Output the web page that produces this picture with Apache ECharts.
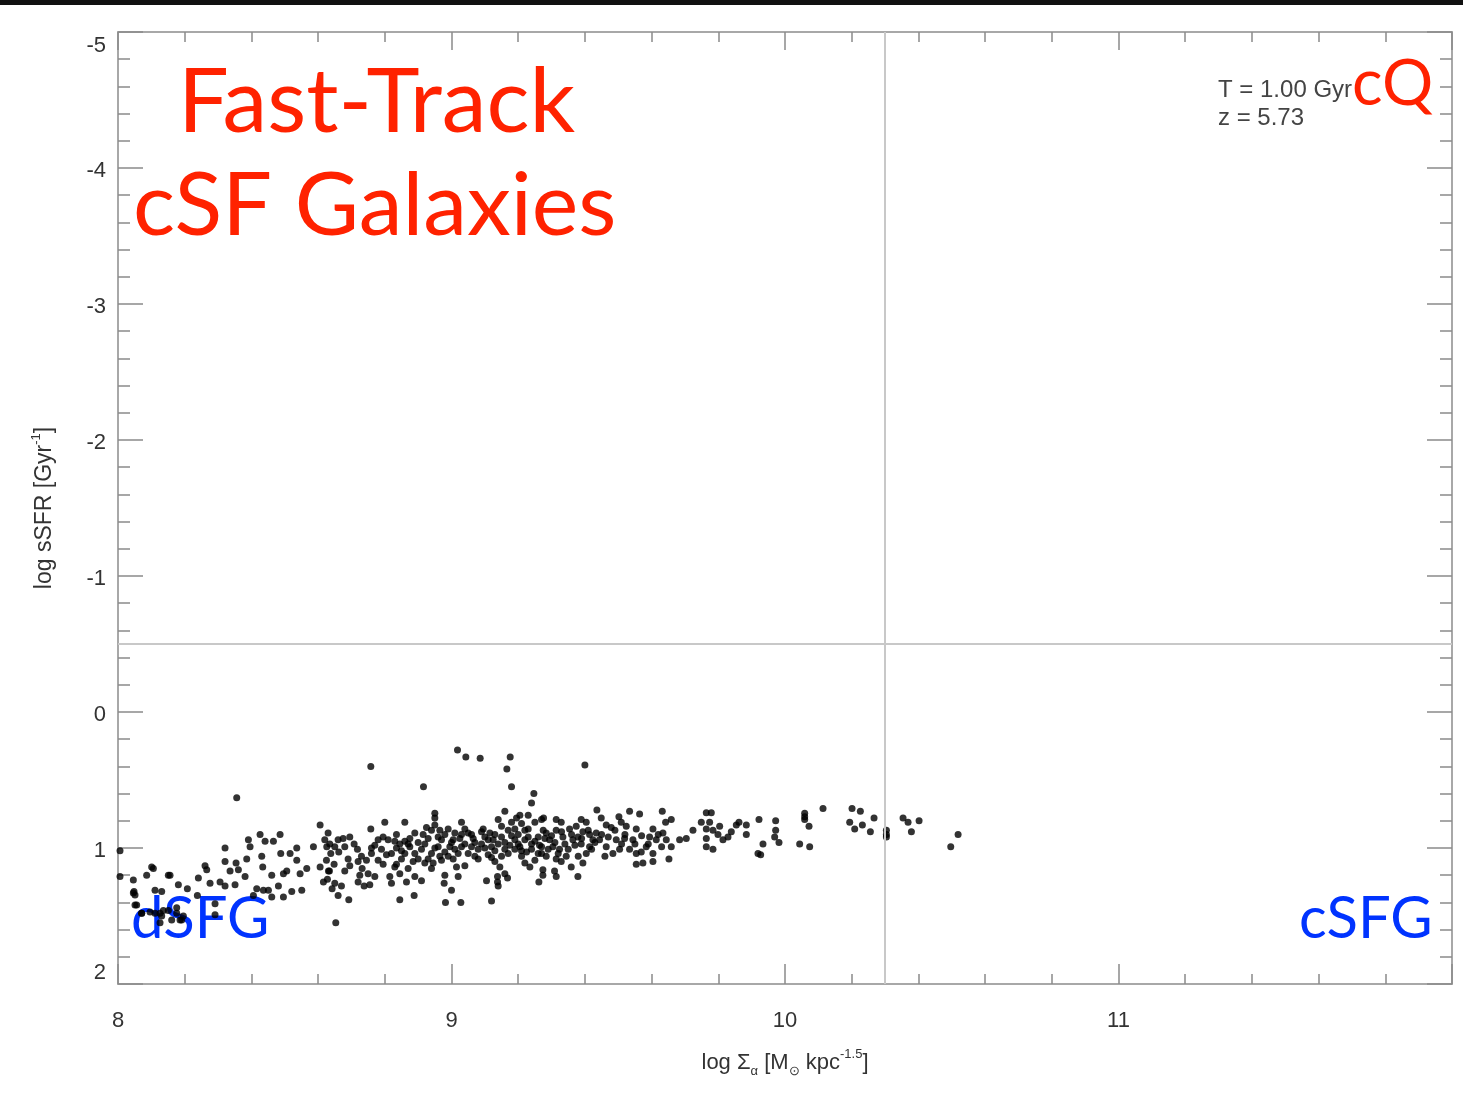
<!DOCTYPE html>
<html>
<head>
<meta charset="utf-8">
<script src="https://cdn.jsdelivr.net/npm/echarts@6/dist/echarts.min.js"></script>
<style>
html,body{margin:0;padding:0;background:#fff;}
#chart{width:1463px;height:1100px;}
</style>
</head>
<body>
<div id="chart"></div>
<script>
// ---- axis settings ----
const xRange = [8, 12];
const yRange = [-5, 2];
const xTickLabels = ['8', '9', '10', '11'];
const yTickLabels = ['-5', '-4', '-3', '-2', '-1', '0', '1', '2'];
const ssfrThreshold = -0.5;
const sigmaThreshold = 10.3;

// ---- galaxies: [log Sigma_alpha, log sSFR] ----
const outliers = [
  [8.356,0.63],[8.758,0.40],[9.018,0.28],[9.043,0.33],[9.086,0.34],[9.176,0.33],[9.166,0.42],
  [9.18,0.55],[8.916,0.55],[9.247,0.60],[9.24,0.67],[8.653,1.55],[8.692,1.38],[8.845,1.38],
  [8.888,1.35],[8.982,1.40],[9.028,1.40],[9.12,1.39],[9.40,0.39],[8.006,1.02],[8.006,1.21]
];
const lowMassGalaxies = [
  [8.046,1.235],[8.048,1.32],[8.051,1.345],[8.056,1.42],[8.071,1.48],[8.086,1.20],[8.106,1.15],
  [8.111,1.31],[8.131,1.32],[8.136,1.46],[8.126,1.48],[8.156,1.20],[8.181,1.27],[8.208,1.30],
  [8.176,1.48],[8.191,1.53],[8.241,1.22],[8.238,1.35],[8.261,1.13],[8.266,1.16],[8.276,1.26],
  [8.291,1.41],[8.291,1.49],[8.306,1.25],[8.321,1.00],[8.321,1.10],[8.321,1.28],[8.336,1.17],
  [8.354,1.11],[8.361,1.16],[8.351,1.27],[8.381,1.21],[8.391,0.94],[8.386,1.08],[8.396,0.99],
  [8.406,1.35],[8.416,1.30],[8.426,0.90],[8.431,1.06],[8.434,1.14],[8.441,0.95],[8.436,1.31],
  [8.451,1.31],[8.461,1.36],[8.466,0.95],[8.461,1.20],[8.481,1.28],[8.486,0.90],[8.488,1.04],
  [8.496,1.19],[8.496,1.36],[8.506,1.17],[8.516,1.04],[8.521,1.32],[8.536,1.00],[8.536,1.09],
  [8.546,1.19],[8.551,1.31],[8.566,1.15],[8.586,0.99],[8.606,0.83],[8.606,1.14],[8.616,1.25],
  [8.626,0.99],[8.631,1.17],
  [8.046,1.33],[8.051,1.42],[8.071,1.48],[8.096,1.47],[8.111,1.48],[8.131,1.50],[8.151,1.46],
  [8.176,1.44],[8.186,1.53],[8.196,1.50],[8.161,1.53],[8.126,1.55],[8.101,1.14],[8.151,1.20]
];
const midMassGalaxies = [
  [8.978,1.26],[9.0,1.31],[9.02,1.21],[9.015,1.14],[9.04,1.13],[9.105,1.24],[9.138,1.21],
  [9.138,1.25],[9.168,1.22],[9.262,1.25],[8.80,0.81],[8.86,0.81],[8.758,0.86],[8.695,0.92],
  [8.63,0.89],[8.835,0.90],[8.95,0.745],[8.95,0.78],[9.03,0.81],[9.16,0.73],[9.205,0.76],[9.23,0.76],
  [8.62,0.94],[8.635,0.97],[8.65,0.99],[8.662,1.03],[8.638,1.04],[8.625,1.09],[8.648,1.12],
  [8.634,1.17],[8.628,1.23],[8.65,1.26],[8.67,1.28],[8.642,1.30],[8.66,1.35],[8.68,0.99],
  [8.708,0.97],[8.718,1.01],[8.69,1.08],[8.695,1.13],[8.68,1.17],[8.72,1.10],[8.732,1.15],
  [8.725,1.20],[8.72,1.25],[8.738,1.28],[8.755,1.27],[8.77,1.21],[8.75,1.19],[8.745,1.09],
  [8.76,1.04],[8.77,0.98],[8.78,0.94],[8.795,0.92],[8.81,0.94],[8.79,1.01],[8.805,1.05],
  [8.78,1.09],[8.795,1.12],[8.82,1.04],[8.835,1.00],[8.845,0.97],[8.86,0.95],[8.875,0.93],
  [8.89,0.89],[8.875,0.99],[8.86,1.04],[8.85,1.08],[8.835,1.12],[8.845,1.19],[8.87,1.15],
  [8.885,1.10],[8.90,1.08],[8.89,1.04],[8.91,1.01],[8.92,0.97],[8.915,0.90],[8.925,0.85],
  [8.94,0.87],[8.95,0.83],[8.965,0.87],[8.98,0.90],[8.97,0.94],[8.96,0.99],[8.94,1.04],
  [8.93,1.08],[8.92,1.11],[8.945,1.11],[8.965,1.06],[8.98,1.03],[8.995,0.99],[9.005,0.94],
  [8.99,0.86],[9.01,0.89],[9.025,0.93],[9.03,0.99],[9.02,1.04],[9.005,1.08],[9.04,0.86],
  [9.05,0.89],[9.065,0.93],[9.06,0.99],[9.05,1.04],[9.07,1.06],[9.08,1.01],[9.09,0.97],
  [9.10,0.92],[9.095,0.86],[9.115,0.89],[9.125,0.94],[9.12,0.99],[9.11,1.05],[9.13,1.10],
  [9.145,1.14],[9.15,1.06],[9.16,1.01],[9.14,0.97],[9.14,0.79],[9.15,0.84],[9.17,0.87],
  [9.18,0.81],[9.195,0.78],[9.21,0.82],[9.22,0.87],[9.20,0.90],[9.19,0.94],[9.175,0.98],
  [9.19,1.01],[9.205,0.99],[9.22,0.94],[9.23,0.92],[9.24,0.97],[9.225,1.03],[9.21,1.06],
  [9.22,1.11],[9.235,1.14],[9.25,1.09],[9.26,1.04],[9.27,0.99],[9.26,0.92],[9.275,0.87],
  [9.27,0.79],[9.25,0.81],[8.66,0.94],[8.675,0.93],[8.83,1.14],[8.815,1.21],[8.82,1.26],
  [8.89,1.21],[8.91,1.24],[8.94,1.15],[8.865,1.25],[8.98,1.20],[9.14,1.28],[9.16,1.19]
];
const denseCoreGalaxies = [
  [9.00,0.96],[9.01,1.01],[8.99,1.06],[9.03,0.90],[9.04,0.97],[9.06,0.90],[9.07,0.96],[9.08,1.08],
  [9.09,0.88],[9.10,1.00],[9.11,0.94],[9.12,1.07],[9.13,0.90],[9.13,1.02],[9.15,0.92],[9.16,0.96],
  [9.17,1.04],[9.18,0.91],[9.19,0.86],[9.20,0.97],[9.21,1.02],[9.23,0.86],[9.24,1.01],[9.25,0.95],
  [9.27,1.04],[9.28,0.93],[9.29,1.01],[9.30,0.91],[9.31,0.96],[9.32,1.04],[9.33,0.88],[9.34,0.97],
  [9.35,1.01],[9.36,0.90],[9.37,0.98],[9.38,1.06],[9.39,0.93],[9.41,0.87],[9.42,1.01],[9.43,0.96],
  [9.45,0.90],[9.46,1.06],[9.47,0.92],[9.49,0.87],[9.51,0.97],[9.52,0.90],[9.55,0.97],[9.57,0.91],
  [9.59,0.97],[9.62,0.90],[9.63,0.99],[8.93,0.93],[8.95,1.00],[8.96,0.92],[8.87,0.97],[8.85,1.02],
  [8.90,0.96],[8.97,1.09],[8.83,0.95],[8.76,1.00],[8.73,1.06]
];
const highMassGalaxies = [
  [9.436,0.72],[9.534,0.73],[9.564,0.75],[9.632,0.73],[9.276,0.78],[9.314,0.79],[9.329,0.81],
  [9.389,0.79],[9.404,0.81],[9.449,0.78],[9.502,0.77],[9.509,0.81],[9.464,0.83],[9.479,0.85],
  [9.524,0.84],[9.554,0.86],[9.604,0.86],[9.642,0.81],[9.659,0.79],[9.634,0.89],[9.644,0.94],
  [9.659,0.99],[9.652,1.08],[9.614,0.94],[9.604,1.04],[9.604,1.10],[9.574,1.11],[9.554,1.12],
  [9.569,1.03],[9.534,1.01],[9.544,0.94],[9.519,0.93],[9.494,0.94],[9.504,1.01],[9.484,1.04],
  [9.464,0.99],[9.444,0.94],[9.434,0.89],[9.414,0.90],[9.394,0.88],[9.379,0.92],[9.364,0.94],
  [9.389,0.97],[9.414,0.99],[9.424,0.94],[9.404,1.04],[9.394,1.11],[9.379,1.21],[9.359,1.14],
  [9.344,1.06],[9.324,1.01],[9.304,0.99],[9.294,0.94],[9.284,0.89],[9.314,0.87],[9.334,0.92],
  [9.354,0.86],[9.374,0.84],[9.314,1.08],[9.329,1.10],[9.309,1.17],[9.314,1.21],[9.274,1.16],
  [9.284,1.06],[9.684,0.94],[9.704,0.93],[9.724,0.87],[9.749,0.81],[9.764,0.74],[9.779,0.74],
  [9.774,0.81],[9.764,0.86],[9.784,0.87],[9.764,0.93],[9.764,0.99],[9.784,1.01],[9.799,0.90],
  [9.814,0.94],[9.829,0.92],[9.839,0.88],[9.854,0.83],[9.862,0.81],[9.884,0.83],[9.884,0.90],
  [9.919,1.04],[9.804,0.84],[9.554,1.04],[9.584,0.99],[9.594,0.92],[9.264,0.98],[9.274,1.20],
  [9.922,0.79],[9.972,0.80],[9.972,0.87],[9.969,0.92],[9.982,0.96],[9.934,0.97],[9.927,1.05],
  [10.059,0.745],[10.059,0.77],[10.059,0.79],[10.072,0.84],[10.044,0.97],[10.074,0.99],
  [10.114,0.71],[10.201,0.71],[10.226,0.73],[10.194,0.81],[10.209,0.86],[10.232,0.83],
  [10.256,0.88],[10.267,0.78],[10.304,0.87],[10.304,0.90],[10.304,0.92],[10.354,0.78],
  [10.369,0.81],[10.379,0.88],[10.402,0.80],[10.519,0.90],[10.497,0.99]
];

// ---- annotation texts ----
const titleLines = ['Fast-Track', 'cSF Galaxies'];
const infoLines = ['T = 1.00 Gyr', 'z = 5.73'];
const regionLabels = { quenched: 'cQ', diffuse: 'dSFG', compact: 'cSFG' };

const frameColor = '#a8a8a8';
const tickColor = '#8a8a8a';
const labelFont = 'Liberation Sans';

function axisCommon(showLabel, majorLen, minorLen) {
  return {
    axisLine: { show: true, onZero: false, lineStyle: { color: frameColor, width: 2 } },
    axisTick: { show: true, inside: true, length: majorLen, lineStyle: { color: tickColor, width: 1.5 } },
    minorTick: { show: true, splitNumber: 5, length: minorLen, lineStyle: { color: tickColor, width: 1.5 } },
    splitLine: { show: false },
    axisLabel: { show: showLabel, color: '#333', fontSize: 22, fontFamily: labelFont }
  };
}

const chart = echarts.init(document.getElementById('chart'), null, { renderer: 'canvas' });
const xMain = axisCommon(true, 20, 10);
xMain.axisLabel.margin = 26;
xMain.axisLabel.formatter = function (v) {
  const i = Math.round(v - xRange[0]);
  return i < xTickLabels.length ? xTickLabels[i] : '';
};
const yMain = axisCommon(true, 25, 12);
yMain.axisLabel.margin = 12;
yMain.axisLabel.formatter = function (v) {
  const i = Math.round(v - yRange[0]);
  const t = yTickLabels[i];
  if (i === 0) return '{top|' + t + '}';
  if (i === yTickLabels.length - 1) return '{bot|' + t + '}';
  return '{n|' + t + '}';
};
yMain.axisLabel.rich = {
  top: { fontSize: 22, fontFamily: labelFont, color: '#333', padding: [28, 0, 0, 0] },
  bot: { fontSize: 22, fontFamily: labelFont, color: '#333', padding: [0, 0, 22, 0] },
  n: { fontSize: 22, fontFamily: labelFont, color: '#333', padding: [6, 0, 0, 0] }
};

const option = {
  backgroundColor: '#fff',
  animation: false,
  grid: { left: 118, top: 32, width: 1334, height: 952 },
  xAxis: [
    Object.assign({
      type: 'value', min: xRange[0], max: xRange[1], interval: 1, position: 'bottom',
      name: '{a|log Σ}{s|α}{a| [M}{s|⊙}{a| kpc}{p|-1.5}{a|]}',
      nameLocation: 'middle', nameGap: 64,
      nameTextStyle: {
        rich: {
          a: { fontSize: 22, fontFamily: labelFont, color: '#333', lineHeight: 30, verticalAlign: 'middle' },
          s: { fontSize: 13, fontFamily: labelFont, color: '#333', lineHeight: 30, verticalAlign: 'bottom', padding: [14, 0, 0, 0] },
          p: { fontSize: 13, fontFamily: labelFont, color: '#333', lineHeight: 30, verticalAlign: 'top', padding: [0, 0, 14, 0] }
        }
      }
    }, xMain),
    Object.assign({
      type: 'value', min: xRange[0], max: xRange[1], interval: 1, position: 'top'
    }, axisCommon(false, 18, 10))
  ],
  yAxis: [
    Object.assign({
      type: 'value', min: yRange[0], max: yRange[1], interval: 1, inverse: true, position: 'left',
      name: '{a|log sSFR [Gyr}{p|-1}{a|]}',
      nameLocation: 'middle', nameGap: 58, nameRotate: 90,
      nameTextStyle: {
        rich: {
          a: { fontSize: 23, fontFamily: labelFont, color: '#333', lineHeight: 30, verticalAlign: 'middle' },
          p: { fontSize: 13, fontFamily: labelFont, color: '#333', lineHeight: 30, verticalAlign: 'top', padding: [0, 0, 14, 0] }
        }
      }
    }, yMain),
    Object.assign({
      type: 'value', min: yRange[0], max: yRange[1], interval: 1, inverse: true, position: 'right'
    }, axisCommon(false, 25, 12))
  ],
  series: [
    {
      type: 'scatter', xAxisIndex: 0, yAxisIndex: 0,
      data: outliers.concat(lowMassGalaxies, midMassGalaxies, denseCoreGalaxies, highMassGalaxies),
      symbol: 'circle', symbolSize: 7,
      itemStyle: { color: '#000' },
      silent: true,
      markLine: {
        silent: true, symbol: 'none', label: { show: false },
        lineStyle: { color: '#c8c8c8', width: 2, type: 'solid' },
        data: [{ yAxis: ssfrThreshold }, { xAxis: sigmaThreshold }]
      },
      z: 3
    }
  ],
  graphic: [
    { type: 'rect', left: 0, top: 0, shape: { width: 1463, height: 5 }, style: { fill: '#111' } },
    { type: 'text', left: 178, top: 58, style: { text: titleLines[0], fill: '#ff2200', font: '90px Lato' } },
    { type: 'text', left: 133, top: 163, style: { text: titleLines[1], fill: '#ff2200', font: '88px Lato' } },
    { type: 'text', left: 1218, top: 78, style: { text: infoLines[0], fill: '#444', font: '24px "Liberation Sans"' } },
    { type: 'text', left: 1218, top: 106, style: { text: infoLines[1], fill: '#444', font: '24px "Liberation Sans"' } },
    { type: 'text', left: 1352, top: 52, style: { text: regionLabels.quenched, fill: '#ff2200', font: '64px Lato' } },
    { type: 'text', left: 131, top: 890, style: { text: regionLabels.diffuse, fill: '#0033ff', font: '58px Lato' } },
    { type: 'text', left: 1299, top: 890, style: { text: regionLabels.compact, fill: '#0033ff', font: '58px Lato' } }
  ]
};
chart.setOption(option);
</script>
</body>
</html>
